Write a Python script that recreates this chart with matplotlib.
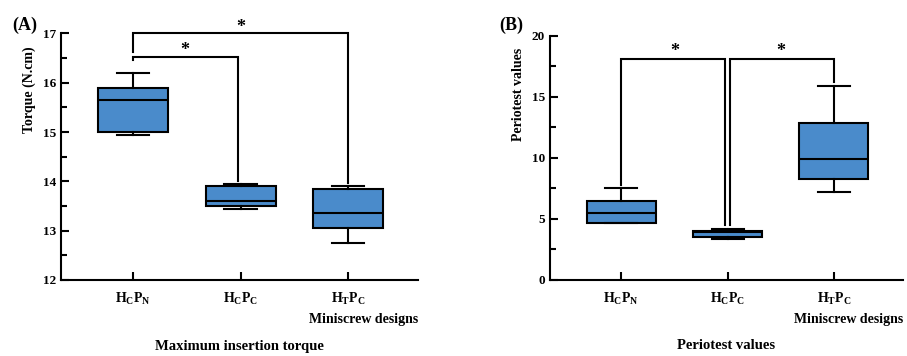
import matplotlib.pyplot as plt
from matplotlib.ticker import MultipleLocator

plt.rcParams['font.family'] = ['Liberation Serif', 'DejaVu Serif']
plt.rcParams['font.weight'] = 'bold'
plt.rcParams['mathtext.fontset'] = 'custom'
plt.rcParams['mathtext.bf'] = 'Liberation Serif:bold'
plt.rcParams['mathtext.rm'] = 'Liberation Serif:bold'

# groups
groups = [r'$\mathbf{H_CP_N}$', r'$\mathbf{H_CP_C}$', r'$\mathbf{H_TP_C}$']

# (A) maximum insertion torque: whislo, q1, med, q3, whishi
torque_lo = [14.95, 13.45, 12.75]
torque_q1 = [15.0, 13.5, 13.05]
torque_med = [15.65, 13.6, 13.35]
torque_q3 = [15.9, 13.9, 13.85]
torque_hi = [16.2, 13.95, 13.9]

# (B) periotest values
perio_lo = [4.65, 3.35, 7.2]
perio_q1 = [4.65, 3.5, 8.25]
perio_med = [5.5, 3.9, 9.9]
perio_q3 = [6.5, 4.0, 12.85]
perio_hi = [7.5, 4.2, 15.9]

BLUE = '#4a8bcb'
LW = 1.5


def make_stats(lo, q1, med, q3, hi):
    out = []
    for i in range(len(lo)):
        out.append({'whislo': lo[i], 'q1': q1[i], 'med': med[i],
                    'q3': q3[i], 'whishi': hi[i], 'fliers': []})
    return out


def draw_box(ax, stats):
    ax.bxp(stats, positions=[1, 2, 3], widths=0.65, patch_artist=True,
           showfliers=False,
           boxprops=dict(facecolor=BLUE, edgecolor='black', linewidth=LW),
           medianprops=dict(color='black', linewidth=LW),
           whiskerprops=dict(color='black', linewidth=LW),
           capprops=dict(color='black', linewidth=LW), capwidths=0.3)


def style_axes(ax):
    ax.spines['top'].set_visible(False)
    ax.spines['right'].set_visible(False)
    ax.spines['left'].set_linewidth(LW)
    ax.spines['bottom'].set_linewidth(LW)
    ax.tick_params(axis='both', which='major', direction='in', length=6, width=LW, labelsize=9.5)
    ax.tick_params(axis='y', which='minor', direction='in', length=4, width=LW)
    ax.tick_params(axis='x', which='major', pad=8, labelsize=10)
    ax.set_xticks([1, 2, 3])
    ax.set_xticklabels(groups)
    ax.set_xlim(0.33, 3.65)


def bracket(ax, x1, x2, y, y1, y2, sx, sy):
    ax.plot([x1, x1, x2, x2], [y1, y, y, y2], color='black', lw=LW, clip_on=False,
            solid_joinstyle='miter')
    ax.text(sx, sy, '*', ha='center', va='center', fontsize=13, fontweight='bold')


fig = plt.figure(figsize=(9.07, 3.56), dpi=100)
axA = fig.add_axes([0.0673, 0.2135, 0.3936, 0.6925])
axB = fig.add_axes([0.6064, 0.2135, 0.3892, 0.6854])

# panel A
draw_box(axA, make_stats(torque_lo, torque_q1, torque_med, torque_q3, torque_hi))
axA.set_ylim(12, 17)
axA.yaxis.set_major_locator(MultipleLocator(1))
axA.yaxis.set_minor_locator(MultipleLocator(0.5))
style_axes(axA)
axA.set_ylabel('Torque (N.cm)', fontsize=10, fontweight='bold')
axA.yaxis.set_label_coords(-0.07, 0.77)
bracket(axA, 1, 3, 17.0, 16.62, 13.97, 2.0, 17.12)
bracket(axA, 1, 1.98, 16.53, 16.47, 14.0, 1.48, 16.66)
axA.text(1.0, -0.16, 'Miniscrew designs', transform=axA.transAxes, ha='right', va='center',
         fontsize=10)
axA.text(0.5, -0.27, 'Maximum insertion torque', transform=axA.transAxes, ha='center',
         va='center', fontsize=10.5)
fig.text(0.013, 0.93, '(A)', fontsize=13, fontweight='bold', ha='left', va='center')

# panel B
draw_box(axB, make_stats(perio_lo, perio_q1, perio_med, perio_q3, perio_hi))
axB.set_ylim(0, 20)
axB.yaxis.set_major_locator(MultipleLocator(5))
axB.yaxis.set_minor_locator(MultipleLocator(2.5))
style_axes(axB)
axB.set_ylabel('Periotest values', fontsize=10, fontweight='bold')
axB.yaxis.set_label_coords(-0.07, 0.76)
bracket(axB, 1, 1.98, 18.1, 7.8, 4.5, 1.5, 18.75)
bracket(axB, 2.02, 3, 18.1, 4.5, 16.2, 2.5, 18.75)
axB.text(1.0, -0.16, 'Miniscrew designs', transform=axB.transAxes, ha='right', va='center',
         fontsize=10)
axB.text(0.5, -0.27, 'Periotest values', transform=axB.transAxes, ha='center',
         va='center', fontsize=10.5)
fig.text(0.5505, 0.93, '(B)', fontsize=13, fontweight='bold', ha='left', va='center')

fig.savefig('out.png', dpi=100)
